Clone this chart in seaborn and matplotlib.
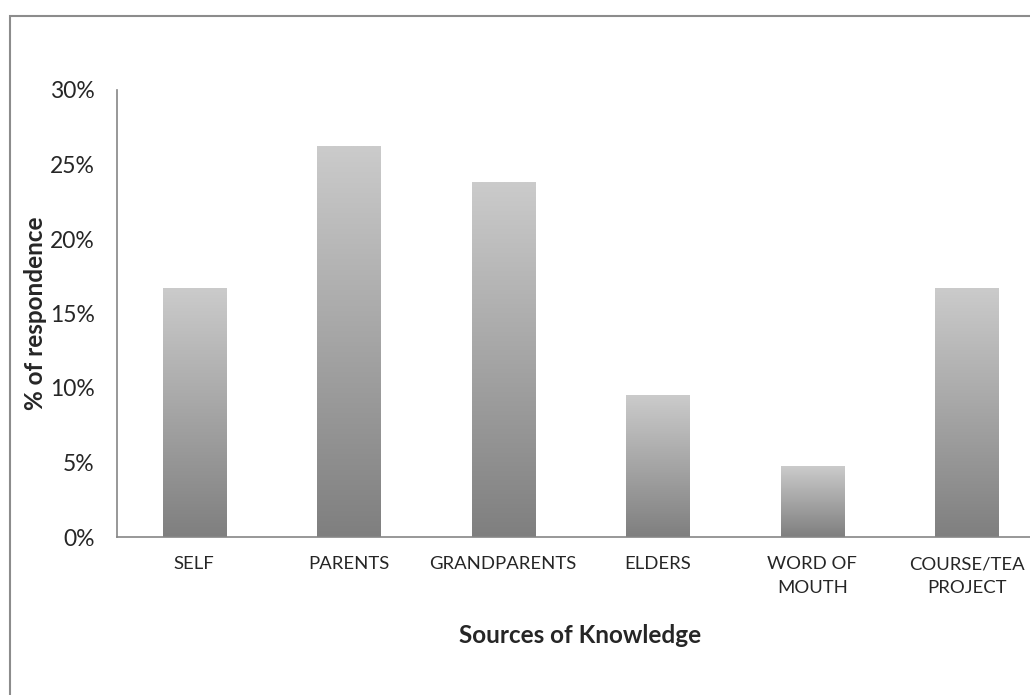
import numpy as np
import pandas as pd
import seaborn as sns
import matplotlib.pyplot as plt
from matplotlib.patches import Rectangle
from matplotlib.colors import LinearSegmentedColormap
from matplotlib.ticker import PercentFormatter

sources = ["SELF", "PARENTS", "GRANDPARENTS", "ELDERS", "WORD OF\nMOUTH", "COURSE/TEA\nPROJECT"]
share = [16.67, 26.19, 23.81, 9.52, 4.76, 16.67]

df = pd.DataFrame({"source": sources, "share": share})

sns.set_style("white")
plt.rcParams["font.family"] = ["Lato", "DejaVu Sans"]

fig = plt.figure(figsize=(10.3, 6.95), dpi=100)
ax = fig.add_axes([117 / 1030, 158 / 695, 927 / 1030, 447 / 695])

sns.barplot(data=df, x="source", y="share", color="#999999", width=0.41, ax=ax)

# vertical grey gradient inside every bar (light top, dark bottom)
grad = LinearSegmentedColormap.from_list("g", ["#7f7f7f", "#cbcbcb"])
img = np.linspace(0, 1, 256).reshape(-1, 1)
for p in ax.patches:
    x0, y0 = p.get_x(), p.get_y()
    w, h = p.get_width(), p.get_height()
    ax.imshow(img, cmap=grad, origin="lower", aspect="auto",
              extent=(x0, x0 + w, y0, y0 + h), zorder=2)
    p.set_facecolor("none")
    p.set_edgecolor("none")

ax.set_xlim(-0.5, len(sources) - 0.5)
ax.set_ylim(0, 30)
ax.set_yticks(range(0, 31, 5))
ax.yaxis.set_major_formatter(PercentFormatter(decimals=0))

ax.set_xticks(range(len(sources)))
ax.set_xticklabels(sources, fontsize=13.3, linespacing=1.6)
ax.set_xticks(np.arange(-0.5, len(sources), 1), minor=True)
ax.tick_params(axis="x", which="major", length=0, pad=14)
ax.tick_params(axis="x", which="minor", length=6, color="#868686", width=1.2, direction="out")
ax.tick_params(axis="y", labelsize=16.5, length=6, color="#868686", width=1.2, direction="out", pad=10)

for side in ["top", "right"]:
    ax.spines[side].set_visible(False)
for side in ["left", "bottom"]:
    ax.spines[side].set_color("#868686")
    ax.spines[side].set_linewidth(1.2)

ax.set_xlabel("Sources of Knowledge", fontsize=17.5, fontweight="bold", labelpad=20)
ax.set_ylabel("% of respondence", fontsize=17.5, fontweight="bold", labelpad=2)

# outer chart frame, cut off at the right and bottom
fig.patches.append(Rectangle((10 / 1030, -0.1), 1.2, (695 - 16) / 695 + 0.1,
                             transform=fig.transFigure, fill=False,
                             edgecolor="#8c8c8c", linewidth=1.5))

fig.savefig("out.png", dpi=100)
